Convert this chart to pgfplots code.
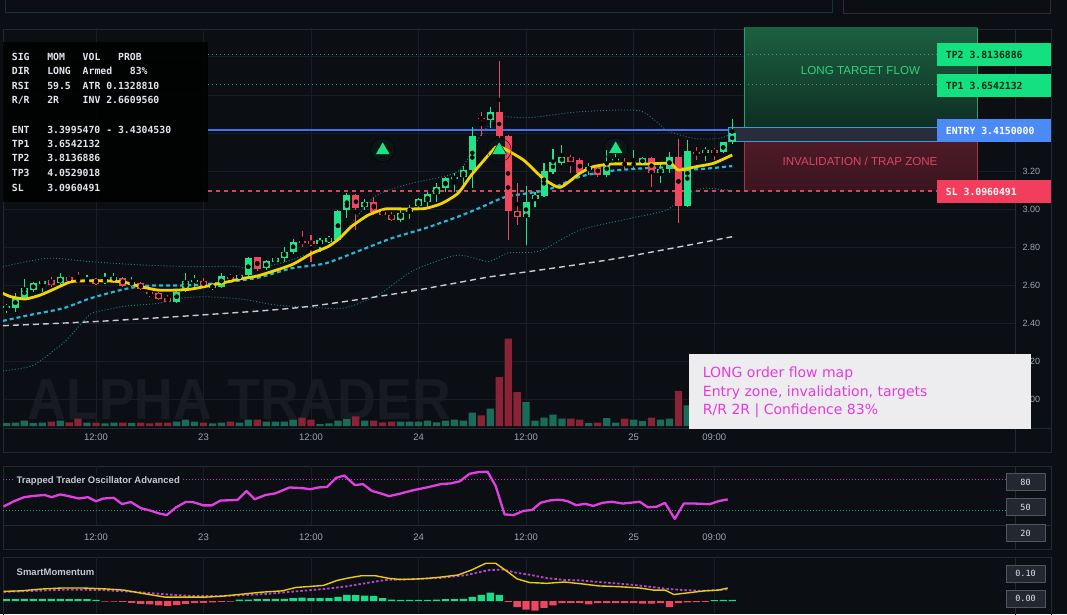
\documentclass[border=0pt]{standalone}
\usepackage{pgfplots}
\usepackage{pgfplotstable}
\pgfplotsset{compat=1.18}
\usepackage{fontspec}
\setmainfont{Liberation Sans}
\newfontfamily\mono{DejaVu Sans Mono}
\newfontfamily\dv{DejaVu Sans}

\definecolor{bg}{HTML}{0B0E13}
\definecolor{gridc}{HTML}{181D26}
\definecolor{panelc}{HTML}{232932}
\definecolor{labc}{HTML}{A0A6B0}
\definecolor{upc}{HTML}{22E28C}
\definecolor{dnc}{HTML}{F0475F}
\definecolor{volg}{HTML}{1B6B5A}
\definecolor{volr}{HTML}{8A2336}
\definecolor{emac}{HTML}{F2D400}
\definecolor{cyanc}{HTML}{2CB4D6}
\definecolor{bandc}{HTML}{1F7E86}
\definecolor{grayc}{HTML}{C9CDD2}
\definecolor{entryc}{HTML}{3B73F0}
\definecolor{tpc}{HTML}{25A56E}
\definecolor{slc}{HTML}{E2415C}
\definecolor{trig}{HTML}{1BE384}
\definecolor{boxg}{HTML}{13E07F}
\definecolor{boxb}{HTML}{4C8BF5}
\definecolor{boxr}{HTML}{F23D5C}
\definecolor{boxtxt}{HTML}{0A2A18}
\definecolor{oscc}{HTML}{E23FE0}
\definecolor{magdot}{HTML}{B13DB5}
\definecolor{grndot}{HTML}{1E9E7A}
\definecolor{smy}{HTML}{E9CB12}
\definecolor{smm}{HTML}{B548C8}
\definecolor{smg}{HTML}{18DC8A}
\definecolor{smr}{HTML}{EE4560}
\definecolor{annc}{HTML}{E63ADF}
\definecolor{annbg}{HTML}{EDEDF0}
\definecolor{zgt}{HTML}{1C6040}
\definecolor{zgb}{HTML}{0E2E24}
\definecolor{zrt}{HTML}{4D1B27}
\definecolor{zrb}{HTML}{3A151F}
\definecolor{zedgeg}{HTML}{2E9E68}
\definecolor{zedger}{HTML}{A8344A}
\definecolor{zonegtxt}{HTML}{33D27C}
\definecolor{zonertxt}{HTML}{DE4462}
\definecolor{bandfill}{HTML}{272D3A}
\definecolor{bandedge}{HTML}{3E9AD6}
\definecolor{infoc}{HTML}{E2E6EC}
\definecolor{ttlc}{HTML}{C5C9D0}
\definecolor{wmc}{HTML}{171A20}
\definecolor{lblbox}{HTML}{23272F}
\definecolor{lbledge}{HTML}{50555F}
\definecolor{hdr1}{HTML}{18343A}
\definecolor{hdr2}{HTML}{3A2632}

\pgfplotstableread{
h o hi lo c
2 2.479 2.503 2.453 2.491
3 2.483 2.561 2.458 2.535
4 2.535 2.633 2.523 2.584
5 2.575 2.619 2.566 2.610
6 2.609 2.628 2.566 2.623
8 2.610 2.663 2.593 2.642
11 2.615 2.654 2.610 2.628
13 2.615 2.663 2.605 2.633
14 2.628 2.666 2.610 2.642
16 2.602 2.645 2.593 2.619
21 2.514 2.575 2.505 2.567
22 2.575 2.663 2.566 2.622
23 2.622 2.654 2.593 2.627
25 2.584 2.610 2.575 2.601
26 2.593 2.663 2.584 2.650
28 2.636 2.660 2.630 2.654
29 2.654 2.750 2.645 2.741
31 2.689 2.733 2.680 2.728
32 2.724 2.750 2.720 2.742
33 2.742 2.803 2.724 2.777
34 2.773 2.843 2.763 2.829
37 2.815 2.850 2.777 2.838
38 2.829 2.860 2.820 2.850
39 2.838 2.995 2.829 2.990
40 2.995 3.083 2.952 3.074
42 3.013 3.053 2.995 3.036
46 2.943 3.004 2.934 2.978
47 2.983 3.022 2.948 3.008
48 3.018 3.057 2.995 3.053
49 3.039 3.092 3.004 3.078
50 3.078 3.135 3.039 3.118
51 3.113 3.170 3.092 3.162
52 3.158 3.188 3.092 3.170
53 3.170 3.228 3.127 3.205
54 3.205 3.429 3.113 3.386
56 3.468 3.538 3.427 3.508
60 2.957 3.121 2.811 3.039
61 3.051 3.091 3.013 3.074
62 3.070 3.244 3.065 3.200
63 3.195 3.314 3.184 3.249
64 3.244 3.336 3.231 3.275
67 3.205 3.240 3.179 3.222
69 3.179 3.310 3.170 3.244
70 3.253 3.289 3.231 3.263
72 3.231 3.310 3.205 3.240
73 3.240 3.275 3.231 3.266
75 3.191 3.231 3.139 3.209
76 3.209 3.301 3.188 3.275
78 3.016 3.363 3.013 3.305
80 3.296 3.327 3.254 3.310
82 3.298 3.354 3.293 3.350
83 3.350 3.473 3.341 3.398
}\tabUp

\pgfplotstableread{
h o hi lo c
7 2.628 2.645 2.593 2.602
9 2.642 2.650 2.619 2.624
10 2.628 2.671 2.619 2.623
12 2.633 2.640 2.602 2.609
15 2.636 2.645 2.593 2.598
17 2.610 2.615 2.575 2.580
18 2.565 2.570 2.540 2.556
19 2.558 2.566 2.523 2.528
20 2.532 2.549 2.510 2.514
24 2.622 2.636 2.587 2.596
27 2.645 2.658 2.628 2.636
30 2.747 2.750 2.675 2.686
35 2.834 2.885 2.803 2.820
36 2.834 2.864 2.724 2.815
41 3.074 3.078 2.890 3.004
43 3.036 3.065 2.969 2.983
44 2.987 2.995 2.966 2.969
45 2.969 2.983 2.938 2.943
55 3.480 3.512 3.386 3.473
57 3.510 3.777 3.371 3.384
58 3.384 3.389 2.838 2.990
59 2.992 3.135 2.916 2.957
65 3.275 3.284 3.191 3.249
66 3.258 3.266 3.188 3.191
68 3.222 3.231 3.170 3.179
71 3.245 3.266 3.205 3.231
74 3.266 3.275 3.114 3.191
77 3.275 3.366 2.925 3.016
79 3.298 3.327 3.258 3.293
81 3.310 3.319 3.258 3.296
}\tabDn

\pgfplotstableread{
h v
2 3.0
3 3.3
4 5.3
5 3.0
6 3.3
8 5.3
11 3.3
13 2.7
14 3.3
16 3.0
21 4.3
22 6.3
23 4.3
25 2.7
26 3.3
28 3.3
29 6.3
31 4.3
32 4.3
33 4.3
34 6.3
37 2.0
38 2.7
39 5.3
40 7.0
42 5.3
46 4.3
47 4.3
48 4.3
49 5.3
50 3.7
51 5.3
52 6.3
53 5.3
54 13.3
56 17.3
60 24.0
61 5.3
62 8.3
63 11.3
64 7.3
67 3.0
69 8.0
70 3.3
72 6.3
73 5.0
75 6.3
76 7.3
78 20.7
80 5.0
82 5.0
83 6.0
}\volUp

\pgfplotstableread{
h v
7 4.3
9 3.7
10 7.3
12 3.3
15 3.3
17 3.3
18 2.7
19 3.3
20 3.3
24 3.3
27 4.3
30 6.3
35 8.3
36 6.3
41 9.7
43 5.3
44 3.7
45 4.3
55 10.7
57 49.0
58 87.3
59 34.0
65 7.3
66 6.3
68 3.3
71 7.3
74 8.3
77 35.0
79 5.0
81 5.0
}\volDn

\newcommand\infotxt[3]{\node[anchor=base west, inner sep=0pt, text=infoc, font=\mono\bfseries\fontsize{9.8}{11}\selectfont] at (#1pt,#2pt) {#3};}
\newcommand\lblbox[2]{\node[draw=lbledge, fill=lblbox, line width=0.8pt, minimum width=39pt, minimum height=17pt, inner sep=0pt, text=infoc, font=\mono\fontsize{8.5}{10}\selectfont] at (1025.5pt,#1pt) {#2};}

\begin{document}
\begin{tikzpicture}
\useasboundingbox (0,0) rectangle (1067pt,614pt);
\fill[bg] (0,0) rectangle (1067pt,614pt);
% header boxes
\draw[hdr1, line width=1pt] (5pt,601pt) rectangle (832pt,618pt);
\draw[hdr2, line width=1pt] (843pt,600pt) rectangle (1050pt,618pt);
% panels
\draw[panelc, line width=0.8pt] (3pt,162pt) rectangle (1051pt,585pt);
\draw[panelc, line width=0.8pt] (3pt,186pt) -- (1051pt,186pt);
\draw[panelc, line width=0.8pt] (1015pt,162pt) -- (1015pt,585pt);
\draw[panelc, line width=0.8pt] (3pt,65pt) rectangle (1051pt,148pt);
\draw[panelc, line width=0.8pt] (3pt,89pt) -- (1051pt,89pt);
\draw[panelc, line width=0.8pt] (1015pt,65pt) -- (1015pt,148pt);
\draw[panelc, line width=0.8pt] (3pt,-5pt) rectangle (1051pt,57pt);
\draw[panelc, line width=0.8pt] (1015pt,-5pt) -- (1015pt,57pt);
% watermark
\node[anchor=base west, inner sep=0pt, text depth=0pt, font=\bfseries\fontsize{58}{64}\selectfont, text=wmc, xscale=0.925] at (27.5pt,195pt) {ALPHA TRADER};

% ---------------- main price axis ----------------
\begin{axis}[at={(3pt,186pt)}, anchor=south west, scale only axis,
  width=1012pt, height=400pt,
  xmin=1.621, xmax=114.567, ymin=1.8509, ymax=3.9507,
  axis line style={draw=none}, tick style={draw=none},
  xtick={12,24,36,48,60,72,81},
  xticklabels={12:00,23,12:00,24,12:00,25,09:00},
  ytick={2.0,2.2,2.4,2.6,2.8,3.0,3.2,3.4,3.6,3.8},
  yticklabels={2.00,2.20,2.40,2.60,2.80,3.00,3.20,{},3.60,{}},
  yticklabel pos=right,
  grid=major, major grid style={draw=gridc, line width=0.6pt},
  xticklabel style={font=\fontsize{9.5}{11}\selectfont, text=labc, yshift=-2pt},
  yticklabel style={font=\fontsize{9}{10}\selectfont, text=labc, xshift=4pt},
]
% zones
\shade[top color=zgt, bottom color=zgb] (axis cs:84.32,3.4305) rectangle (axis cs:110.33,3.9507);
\shade[top color=zrt, bottom color=zrb] (axis cs:84.32,3.096) rectangle (axis cs:110.33,3.354);
\fill[bandfill] (axis cs:82.54,3.354) rectangle (axis cs:110.33,3.4305);
\draw[zedgeg, line width=0.8pt] (axis cs:84.32,3.4305) -- (axis cs:84.32,3.9507);
\draw[zedgeg, line width=0.8pt] (axis cs:110.33,3.4305) -- (axis cs:110.33,3.9507);
\draw[zedger, line width=0.8pt] (axis cs:84.32,3.096) -- (axis cs:84.32,3.354);
\draw[zedger, line width=0.8pt] (axis cs:110.33,3.096) -- (axis cs:110.33,3.354);
\draw[bandedge, line width=0.8pt] (axis cs:82.54,3.354) rectangle (axis cs:110.33,3.4305);
% level lines
\addplot[tpc, dash pattern=on 1.2pt off 2.8pt, line width=1pt] coordinates {(24.5,3.8137) (105.86,3.8137)};
\addplot[tpc, dash pattern=on 1.2pt off 2.8pt, line width=1pt] coordinates {(24.5,3.6542) (105.86,3.6542)};
\addplot[entryc, line width=1.6pt] coordinates {(24.5,3.415) (82.54,3.415)};
\addplot[slc, dash pattern=on 4pt off 4pt, line width=1.5pt] coordinates {(24.5,3.096) (105.86,3.096)};
% bands
\addplot[bandc, dash pattern=on 1pt off 2pt, line width=0.9pt, smooth, tension=0.4] coordinates {
(1.6,2.698) (6.6,2.742) (11.4,2.724) (17,2.707) (22.6,2.698) (27,2.70) (30.1,2.69) (33.8,2.733) (38.7,2.829) (43.1,3.065) (47.2,3.135) (52.4,3.197) (54.7,3.371) (56.5,3.476) (57.5,3.485) (60.4,3.480) (66,3.511) (72.7,3.516) (75.7,3.415) (78.7,3.371) (81.6,3.371) (83,3.398)};
\addplot[bandc, dash pattern=on 1pt off 2pt, line width=0.9pt, smooth, tension=0.4] coordinates {
(1.6,2.15) (5,2.18) (8.4,2.30) (10,2.38) (11.4,2.45) (13,2.47) (15.2,2.49) (18.9,2.505) (21.1,2.53) (24.1,2.54) (28.2,2.528) (32,2.497) (36,2.485) (39.7,2.48) (43.5,2.55) (47.4,2.677) (52.3,2.758) (55.8,2.725) (58,2.77) (61.5,2.78) (66,2.89) (71.6,2.951) (75.7,2.995) (77.5,3.065) (79.8,3.109) (82.4,3.10) (83,3.10)};
\addplot[grayc, dash pattern=on 6pt off 4pt, line width=1.4pt, smooth] coordinates {
(1.6,2.388) (12,2.41) (24,2.445) (35,2.485) (46,2.56) (56,2.645) (60,2.67) (70,2.74) (83,2.855)};
\addplot[cyanc, dash pattern=on 4pt off 3pt, line width=2.2pt, smooth, tension=0.4] coordinates {
(1.6,2.413) (4.6,2.444) (8.3,2.479) (11.4,2.532) (15.2,2.580) (17.8,2.598) (22.6,2.600) (26.4,2.616) (30.1,2.640) (33.8,2.689) (37.6,2.715) (41.3,2.780) (45,2.847) (48.7,2.899) (52.4,2.960) (55,3.010) (57.8,3.065) (62.3,3.100) (66,3.170) (69.7,3.202) (75.3,3.219) (79,3.209) (83,3.226)};
% candles: wicks
\addplot[only marks, mark=none, error bars/.cd, y dir=both, y explicit, error mark=none,
  error bar style={draw=upc, line width=1.1pt}]
  table[x=h, y expr={(\thisrow{hi}+\thisrow{lo})/2}, y error expr={(\thisrow{hi}-\thisrow{lo})/2}] {\tabUp};
\addplot[only marks, mark=none, error bars/.cd, y dir=both, y explicit, error mark=none,
  error bar style={draw=dnc, line width=1.1pt}]
  table[x=h, y expr={(\thisrow{hi}+\thisrow{lo})/2}, y error expr={(\thisrow{hi}-\thisrow{lo})/2}] {\tabDn};
% candles: bodies
\addplot[only marks, mark=none, error bars/.cd, y dir=both, y explicit, error mark=none,
  error bar style={draw=upc, line width=7pt}]
  table[x=h, y expr={(\thisrow{o}+\thisrow{c})/2}, y error expr={max(abs(\thisrow{c}-\thisrow{o})/2,0.004)}] {\tabUp};
\addplot[only marks, mark=none, error bars/.cd, y dir=both, y explicit, error mark=none,
  error bar style={draw=dnc, line width=7pt}]
  table[x=h, y expr={(\thisrow{o}+\thisrow{c})/2}, y error expr={max(abs(\thisrow{c}-\thisrow{o})/2,0.004)}] {\tabDn};
% EMA
\addplot[emac, line width=2.8pt, smooth, tension=0.35] coordinates {
(1.6,2.558) (2.5,2.540) (4.1,2.528) (5.8,2.549) (7.5,2.584) (9.2,2.619) (11.4,2.624) (13.7,2.622) (15.2,2.616) (17,2.593) (18.9,2.575) (21.1,2.575) (22.6,2.580) (24.1,2.593) (26.4,2.615) (28.2,2.635) (30.1,2.650) (33.8,2.707) (36.1,2.768) (37.9,2.803) (39.2,2.847) (40.5,2.908) (42.4,2.969) (44.3,3.001) (46.1,3.001) (48.7,3.003) (50.6,3.030) (52.4,3.083) (53.9,3.179) (55,3.240) (56.3,3.310) (57,3.330) (59.7,3.258) (61.9,3.161) (63.8,3.114) (66,3.188) (67.5,3.223) (69.7,3.237) (73.5,3.237) (76.1,3.240) (77,3.205) (79,3.223) (80.9,3.240) (83,3.284)};
% signal triangles
\addplot[only marks, mark=*, mark size=12pt, mark options={fill=trig, draw=none, fill opacity=0.035}] coordinates {(44,3.31) (57,3.31) (70,3.315)};
\addplot[only marks, mark=triangle*, mark size=8.5pt, mark options={fill=trig, draw=none}] coordinates {(44,3.31) (57,3.31) (70,3.315)};
% zone texts
\node[anchor=base, inner sep=0pt, font=\fontsize{11.6}{13}\selectfont, text=zonegtxt] at (axis cs:97.32,3.709) {LONG TARGET FLOW};
\node[anchor=base, inner sep=0pt, font=\fontsize{11.6}{13}\selectfont, text=zonertxt] at (axis cs:97.27,3.2315) {INVALIDATION / TRAP ZONE};
\end{axis}

% ---------------- volume overlay ----------------
\begin{axis}[at={(3pt,186pt)}, anchor=south west, scale only axis,
  width=1012pt, height=400pt,
  xmin=1.621, xmax=114.567, ymin=-2, ymax=398,
  axis lines=none, xtick=\empty, ytick=\empty]
\addplot[ybar, bar width=7.3pt, bar shift=0pt, fill=volg, draw=none] table[x=h, y=v] {\volUp};
\addplot[ybar, bar width=7.3pt, bar shift=0pt, fill=volr, draw=none] table[x=h, y=v] {\volDn};
\end{axis}

% info box
\fill[black, opacity=0.85] (3pt,412pt) rectangle (208pt,572pt);
\infotxt{11.7}{553.7}{SIG} \infotxt{47.1}{553.7}{MOM} \infotxt{82.5}{553.7}{VOL} \infotxt{117.9}{553.7}{PROB}
\infotxt{11.7}{539.4}{DIR} \infotxt{47.1}{539.4}{LONG} \infotxt{82.5}{539.4}{Armed} \infotxt{129.7}{539.4}{83\%}
\infotxt{11.7}{524.7}{RSI} \infotxt{47.1}{524.7}{59.5} \infotxt{82.5}{524.7}{ATR 0.1328810}
\infotxt{11.7}{510.1}{R/R} \infotxt{47.1}{510.1}{2R} \infotxt{82.5}{510.1}{INV 2.6609560}
\infotxt{11.7}{480.7}{ENT} \infotxt{47.1}{480.7}{3.3995470 - 3.4304530}
\infotxt{11.7}{466.4}{TP1} \infotxt{47.1}{466.4}{3.6542132}
\infotxt{11.7}{452.1}{TP2} \infotxt{47.1}{452.1}{3.8136886}
\infotxt{11.7}{437.1}{TP3} \infotxt{47.1}{437.1}{4.0529018}
\infotxt{11.7}{422.7}{SL} \infotxt{47.1}{422.7}{3.0960491}

% right-side level labels
\fill[boxg] (937pt,548pt) rectangle (1051pt,571pt);
\node[anchor=west, inner sep=0pt, font=\mono\bfseries\fontsize{9.8}{11}\selectfont, text=boxtxt] at (945.7pt,559.5pt) {TP2 3.8136886};
\fill[boxg] (937pt,517pt) rectangle (1051pt,540pt);
\node[anchor=west, inner sep=0pt, font=\mono\bfseries\fontsize{9.8}{11}\selectfont, text=boxtxt] at (945.7pt,528.5pt) {TP1 3.6542132};
\fill[boxb] (937pt,472pt) rectangle (1051pt,495pt);
\node[anchor=west, inner sep=0pt, font=\mono\bfseries\fontsize{9.8}{11}\selectfont, text=white] at (945.7pt,483.5pt) {ENTRY 3.4150000};
\fill[boxr] (937pt,411pt) rectangle (1051pt,434pt);
\node[anchor=west, inner sep=0pt, font=\mono\bfseries\fontsize{9.8}{11}\selectfont, text=white] at (945.7pt,422.5pt) {SL 3.0960491};

% annotation box
\fill[annbg] (689pt,185pt) rectangle (1031pt,260pt);
\node[anchor=base west, inner sep=0pt, font=\dv\fontsize{14}{16}\selectfont, text=annc] at (702.7pt,236.3pt) {LONG order flow map};
\node[anchor=base west, inner sep=0pt, font=\dv\fontsize{14}{16}\selectfont, text=annc] at (702.7pt,217.3pt) {Entry zone, invalidation, targets};
\node[anchor=base west, inner sep=0pt, font=\dv\fontsize{14}{16}\selectfont, text=annc] at (702.7pt,199.7pt) {R/R 2R | Confidence 83\%};

% ---------------- oscillator ----------------
\begin{axis}[at={(3pt,89pt)}, anchor=south west, scale only axis,
  width=1012pt, height=59pt,
  xmin=1.621, xmax=114.567, ymin=35.62, ymax=93.29,
  axis line style={draw=none}, tick style={draw=none}, ytick=\empty,
  xtick={12,24,36,48,60,72,81},
  xticklabels={12:00,23,12:00,24,12:00,25,09:00},
  xmajorgrids, major grid style={draw=gridc, line width=0.6pt},
  xticklabel style={font=\fontsize{9.5}{11}\selectfont, text=labc, yshift=-5pt}]
\addplot[magdot, dash pattern=on 1pt off 2pt, line width=0.9pt] coordinates {(1.621,80) (113.56,80)};
\addplot[grndot, dash pattern=on 1pt off 2pt, line width=0.9pt] coordinates {(1.621,50) (113.56,50)};
\addplot[oscc, line width=2.3pt, line join=round] coordinates {
(1.67,53.7) (2.83,58.8) (3.98,62.8) (5.13,64.2) (6.29,64.9) (7.05,62.8) (8.0,65.5) (8.97,63.8) (10.1,61.5) (11.1,62.8) (12.0,58.8) (12.8,61.5) (14.0,62.2) (14.9,56.1) (15.9,58.1) (17.0,52.1) (18.2,49.4) (19.0,47.0) (19.9,45.3) (20.9,52.7) (22.0,58.1) (22.8,58.1) (24.0,54.8) (24.9,54.8) (25.9,59.5) (27.8,60.1) (28.8,68.9) (29.7,60.8) (30.9,64.9) (32.0,66.5) (33.6,72.3) (35.1,71.6) (35.9,70.6) (36.8,72.3) (37.8,72.9) (38.8,81.7) (39.7,84.0) (40.9,74.6) (41.8,75.6) (42.8,68.9) (43.9,66.2) (44.7,63.8) (45.9,66.2) (47.4,69.6) (48.9,72.3) (50.5,75.6) (51.6,76.3) (52.6,78.3) (53.7,85.7) (54.7,87.4) (55.7,87.7) (56.6,73.9) (57.6,46.0) (58.6,45.3) (59.7,49.4) (60.7,50.4) (61.6,57.3) (62.7,59.7) (63.7,60.4) (64.6,59.0) (65.6,55.0) (66.6,56.3) (67.5,54.3) (68.5,57.3) (69.6,58.3) (70.8,56.6) (71.9,57.6) (72.7,58.3) (73.6,52.9) (74.6,53.6) (75.5,57.3) (76.6,41.6) (77.6,56.6) (78.8,56.6) (80.5,56.0) (81.5,59.0) (82.5,60.7)};
\end{axis}
\node[anchor=west, fill=bg, inner sep=2pt, font=\bfseries\fontsize{9.5}{11}\selectfont, text=ttlc] at (14.5pt,133pt) {Trapped Trader Oscillator Advanced};
\lblbox{132}{80}
\lblbox{107}{50}
\lblbox{81}{20}

% ---------------- SmartMomentum ----------------
\begin{axis}[at={(3pt,0pt)}, anchor=south west, scale only axis,
  width=1012pt, height=57pt,
  xmin=1.621, xmax=114.567, ymin=-0.05, ymax=0.1692,
  axis line style={draw=none}, tick style={draw=none}, ytick=\empty,
  xtick={12,24,36,48,60,72,81}, xticklabels={},
  xmajorgrids, major grid style={draw=gridc, line width=0.6pt}]
\addplot[ybar, bar width=7.3pt, bar shift=0pt, fill=smg, draw=none] coordinates {
(2,0.007) (3,0.007) (4,0.008) (5,0.008) (6,0.008) (7,0.008) (8,0.008) (9,0.007) (10,0.007) (11,0.007) (12,0.004) (28,0.005) (29,0.005) (30,0.007) (31,0.007) (32,0.008) (33,0.008) (34,0.011) (35,0.013) (36,0.011) (37,0.011) (38,0.011) (39,0.016) (40,0.024) (41,0.023) (42,0.021) (43,0.020) (44,0.011) (45,0.005) (46,0.004) (47,0.004) (48,0.004) (49,0.004) (50,0.005) (51,0.007) (52,0.007) (53,0.008) (54,0.016) (55,0.024) (56,0.032) (57,0.024) (81,0.003) (82,0.004) (83,0.004)};
\addplot[ybar, bar width=7.3pt, bar shift=0pt, fill=smr, draw=none] coordinates {
(13,-0.002) (14,-0.002) (15,-0.003) (16,-0.007) (17,-0.011) (18,-0.013) (19,-0.017) (20,-0.019) (21,-0.016) (22,-0.011) (23,-0.008) (24,-0.007) (25,-0.005) (26,-0.003) (27,-0.002) (58,-0.003) (59,-0.024) (60,-0.033) (61,-0.037) (62,-0.026) (63,-0.017) (64,-0.008) (65,-0.008) (66,-0.008) (67,-0.013) (68,-0.008) (69,-0.008) (70,-0.008) (71,-0.008) (72,-0.008) (73,-0.010) (74,-0.010) (75,-0.008) (76,-0.024) (77,-0.008) (78,-0.005) (79,-0.004) (80,-0.003)};
\addplot[smm, dash pattern=on 2.5pt off 2pt, line width=1.8pt] coordinates {
(1.7,0.035) (5.1,0.039) (9.0,0.044) (12.8,0.042) (16.7,0.034) (19.7,0.026) (22.8,0.019) (25.9,0.019) (28.2,0.022) (31.3,0.028) (34.3,0.037) (37.4,0.046) (39.7,0.055) (42.0,0.068) (44.3,0.081) (47.4,0.084) (50.5,0.089) (53.2,0.099) (55.9,0.119) (57.4,0.121) (59.0,0.108) (60.4,0.101) (62.3,0.088) (64.3,0.081) (66.2,0.079) (68.1,0.073) (70.0,0.068) (71.9,0.062) (73.8,0.055) (75.7,0.047) (77.6,0.042) (79.6,0.039) (81.5,0.042) (82.5,0.045)};
\addplot[smy, line width=1.4pt, line join=round] coordinates {
(1.7,0.037) (3.6,0.039) (5.9,0.046) (8.2,0.050) (10.5,0.050) (12.8,0.047) (15.1,0.042) (17.4,0.028) (19.7,0.015) (22.0,0.015) (24.3,0.015) (25.9,0.018) (28.2,0.026) (30.5,0.034) (32.8,0.039) (34.3,0.052) (35.9,0.056) (37.4,0.060) (38.9,0.079) (40.1,0.088) (41.6,0.097) (43.2,0.097) (44.7,0.087) (45.9,0.083) (47.4,0.084) (49.0,0.087) (50.5,0.092) (52.4,0.100) (53.9,0.119) (55.5,0.145) (56.6,0.145) (57.8,0.116) (59.0,0.085) (60.4,0.071) (62.3,0.068) (64.3,0.073) (66.2,0.066) (68.1,0.058) (70.4,0.055) (72.7,0.050) (74.2,0.042) (75.5,0.042) (76.5,0.025) (78.0,0.031) (79.9,0.039) (81.5,0.042) (82.5,0.050)};
\end{axis}
\node[anchor=west, inner sep=2pt, font=\bfseries\fontsize{9.5}{11}\selectfont, text=ttlc] at (14.5pt,42pt) {SmartMomentum};
\lblbox{40.5}{0.10}
\lblbox{15.5}{0.00}
\end{tikzpicture}
\end{document}
